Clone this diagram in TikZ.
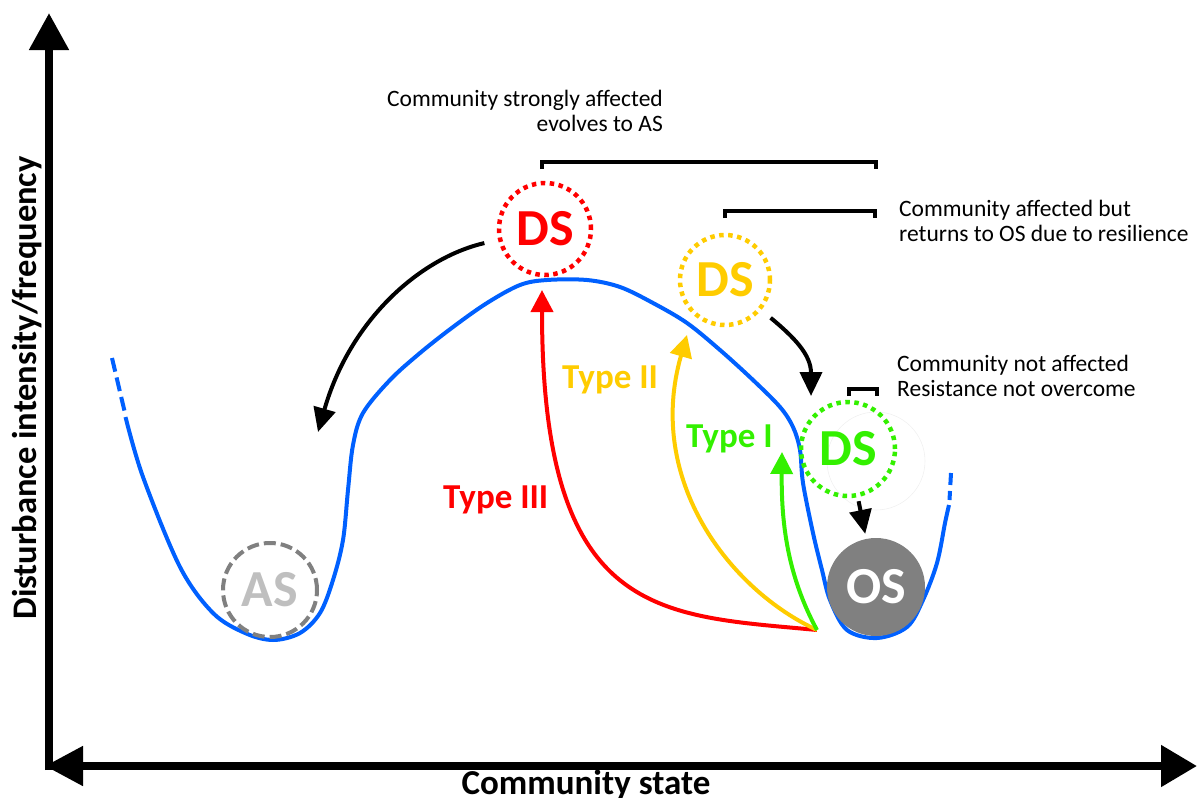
\documentclass[tikz,border=0pt]{standalone}
\usepackage{fontspec}
\setmainfont{Carlito}
\usetikzlibrary{arrows.meta}
\definecolor{curveblue}{RGB}{0,96,255}
\definecolor{dsred}{RGB}{255,0,0}
\definecolor{dsyellow}{RGB}{255,204,0}
\definecolor{dsgreen}{RGB}{51,240,0}
\definecolor{osgray}{RGB}{128,128,128}
\definecolor{asgray}{RGB}{191,191,191}
\begin{document}
\begin{tikzpicture}[x=1pt,y=-1pt]
\tikzset{trans/.style={-{Triangle[length=22pt,width=22pt]},line width=4pt}}
\tikzset{drop/.style={-{Triangle[length=24pt,width=22pt]},line width=4pt,black}}
\tikzstyle{axis}=[line width=8pt]
\tikzstyle{brk}=[line width=4pt]
\tikzstyle{state}=[circle,inner sep=0pt,line width=4.5pt,font=\fontsize{52}{52}\selectfont\bfseries]
\tikzstyle{dotring}=[dash pattern=on 4.5pt off 4.5pt]
\tikzstyle{note}=[inner sep=0pt,font=\fontsize{23.5}{24.5}\selectfont]
\tikzstyle{typ}=[anchor=base west,inner sep=0pt,font=\fontsize{35}{35}\selectfont\bfseries]
\useasboundingbox (0,0) rectangle (1197,798);
\coordinate (o)at(49,770);
\coordinate (ytop)at(49,13);
\coordinate (xl)at(45,766);
\coordinate (xr)at(1197,766);
\draw[axis,-{Triangle[length=37pt,width=38pt]}] (o)--(ytop);
\draw[axis,{Triangle[length=38pt,width=38pt]}-{Triangle[length=36pt,width=40pt]}] (xl)--(xr);
\node[anchor=base,inner sep=0pt,font=\fontsize{35}{35}\selectfont\bfseries] (xlab)at(586,794){Community state};
\node[anchor=base,rotate=90,inner sep=0pt,font=\fontsize{34.5}{34.5}\selectfont\bfseries] (ylab)at(36,388){Disturbance intensity/frequency};
\draw[curveblue,line width=4pt,dash pattern=on 14pt off 6pt] (112,358)--(124.5,411);
\draw[curveblue,line width=4pt,dash pattern=on 12pt off 6pt] (951,473)--(949.5,500);
\draw[curveblue,line width=4pt,line join=round] plot[smooth,tension=0.55] coordinates{
(125.5,417) (143,477) (180,567) (213,613) (245,633) (273,640) (300,633) (320,613) (333,580)
(343,540) (348,490) (353,445) (363,413) (390,380) (420,353) (453,327) (487,303) (520,285)
(547,280) (587,280) (620,287) (653,303) (687,323) (720,350) (753,380) (780,407) (793,427)
(800,450) (803,483) (813,533) (822,570) (830,600) (847,630) (877,638) (907,627) (923,600)
(937,563) (945,523) (949,505)};
\node[circle,draw=gray!12,line width=0.6pt,minimum size=98pt] (ghost)at(876,461){};
\node[state,dotring,draw=dsred,text=dsred,minimum size=92pt] (rds)at(545,229){DS};
\node[state,dotring,draw=dsyellow,text=dsyellow,minimum size=90pt] (yds)at(725,280){DS};
\node[state,dotring,draw=dsgreen,text=dsgreen,minimum size=94pt] (gds)at(848,449){DS};
\node[state,fill=osgray,text=white,minimum size=98pt] (os)at(876,587){OS};
\node[state,draw=osgray,line width=4pt,dash pattern=on 12pt off 5pt,text=asgray,minimum size=94pt] (as)at(270,590){AS};
\coordinate (src)at(817,630);
\coordinate (rtip)at(542,290);
\coordinate (ytip)at(687,335);
\coordinate (gtip)at(782,452);
\coordinate (asin)at(318,432);
\coordinate (gdsin)at(811,396);
\draw[trans,dsred] (src) .. controls (660,615) and (542,620) .. (rtip);
\draw[trans,dsyellow] (src) .. controls (730,590) and (645,480) .. (ytip);
\draw[trans,dsgreen] (src) .. controls (790,580) and (781,530) .. (gtip);
\draw[drop,shorten <=14pt] (rds) .. controls (420,258) and (350,320) .. (asin);
\draw[drop,shorten <=12pt] (yds) .. controls (795,338) and (811,355) .. (gdsin);
\draw[drop,shorten <=4pt,shorten >=3pt] (gds)--(os);
\node[typ,text=dsred] (t3)at(443,508){Type III};
\node[typ,text=dsyellow] (t2)at(562,388){Type II};
\node[typ,text=dsgreen] (t1)at(686,447){Type I};
\draw[brk] (542,169)--(542,162)--(876,162)--(876,169);
\draw[brk] (725,218)--(725,210.5)--(875,210.5)--(875,218);
\draw[brk] (849,396)--(849,389)--(877,389)--(877,396);
\node[note,anchor=north east,align=right] (lbla)at(663,90){Community strongly affected\\evolves to AS};
\node[note,anchor=north west,align=left] (lblb)at(899,200){Community affected but\\returns to OS due to resilience};
\node[note,anchor=north west,align=left] (lblc)at(897,355){Community not affected\\Resistance not overcome};
\end{tikzpicture}
\end{document}
